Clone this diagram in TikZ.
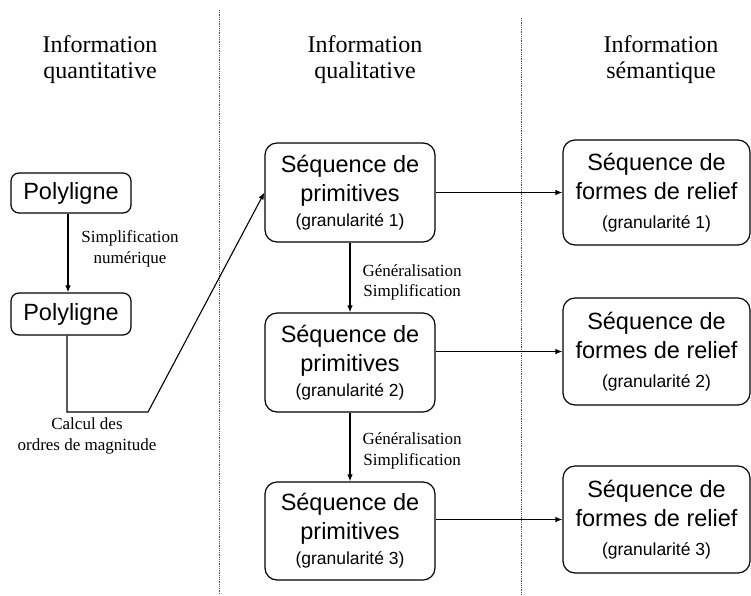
\documentclass[tikz,border=0pt]{standalone}
\usepackage{fontspec}
\setmainfont{Liberation Serif}
\newfontfamily\boxfont{Liberation Sans}
\usetikzlibrary{arrows.meta}
\begin{document}
\begin{tikzpicture}[x=1pt,y=-1pt,
  bigbox/.style={draw, line width=1.2pt, rounded corners=12pt, align=center, inner sep=0pt,
    font=\boxfont\fontsize{23.5}{29}\selectfont},
  polybox/.style={draw, line width=1.2pt, rounded corners=8pt, align=center, inner sep=0pt,
    minimum width=120pt, font=\boxfont\fontsize{23.5}{28}\selectfont},
  gran/.style={},
  header/.style={align=center, font=\fontsize{24}{26}\selectfont},
  lbl/.style={align=center, font=\fontsize{17}{20.5}\selectfont},
  arr/.style={line width=1.1pt, -{Latex[length=7pt,width=5.5pt]}},
  sep/.style={line width=0.8pt, draw=black!70, dash pattern=on 0.9pt off 0.9pt}
]
\useasboundingbox (0,0) rectangle (751,595);

% separators
\draw[sep] (219,10) -- (219,595);
\draw[sep] (521,18) -- (521,595);

% headers
\node[header] (h1) at (100,60) {Information\\quantitative};
\node[header] (h2) at (365,60) {Information\\qualitative};
\node[header] (h3) at (661,60) {Information\\sémantique};

% left column
\node[polybox, minimum height=40pt] (P1) at (71,193) {Polyligne};
\node[polybox, minimum height=42pt] (P2) at (71,314) {Polyligne};

% middle column
\node[bigbox, minimum width=170pt, minimum height=99pt] (S1) at (350,192.5)
  {Séquence de\\primitives\\[-4pt]{\fontsize{17.5}{29}\selectfont (granularité 1)}};
\node[bigbox, minimum width=170pt, minimum height=99pt] (S2) at (350,362.5)
  {Séquence de\\primitives\\[-4pt]{\fontsize{17.5}{29}\selectfont (granularité 2)}};
\node[bigbox, minimum width=170pt, minimum height=98pt] (S3) at (350,531)
  {Séquence de\\primitives\\[-4pt]{\fontsize{17.5}{29}\selectfont (granularité 3)}};

% right column
\node[bigbox, minimum width=187pt, minimum height=105pt] (R1) at (656.5,192.5)
  {Séquence de\\formes de relief\\{\fontsize{17.5}{29}\selectfont (granularité 1)}};
\node[bigbox, minimum width=187pt, minimum height=107pt] (R2) at (656.5,351.5)
  {Séquence de\\formes de relief\\{\fontsize{17.5}{29}\selectfont (granularité 2)}};
\node[bigbox, minimum width=187pt, minimum height=107pt] (R3) at (656.5,519.5)
  {Séquence de\\formes de relief\\{\fontsize{17.5}{29}\selectfont (granularité 3)}};

% labels
\node[lbl] (L1) at (130,249) {Simplification\\numérique};
\node[lbl] (L2) at (87,436) {Calcul des\\ordres de magnitude};
\node[lbl, anchor=west] (L3) at (359,282.5) {Généralisation\\Simplification};
\node[lbl, anchor=west] (L4) at (359,451) {Généralisation\\Simplification};

% connectors
\coordinate (bend) at (148,412);
\draw[arr] ([xshift=-3pt]P1.south) -- ([xshift=-3pt]P2.north);
\draw[arr] ([xshift=-4pt]P2.south) |- (bend) -- (S1.west);
\draw[arr] (S1.south) -- (S2.north);
\draw[arr] (S2.south) -- (S3.north);
\draw[arr] (S1.east) -- (R1.west);
\draw[arr] (S2.east |- R2.west) -- (R2.west);
\draw[arr] (S3.east |- R3.west) -- (R3.west);
\end{tikzpicture}
\end{document}
